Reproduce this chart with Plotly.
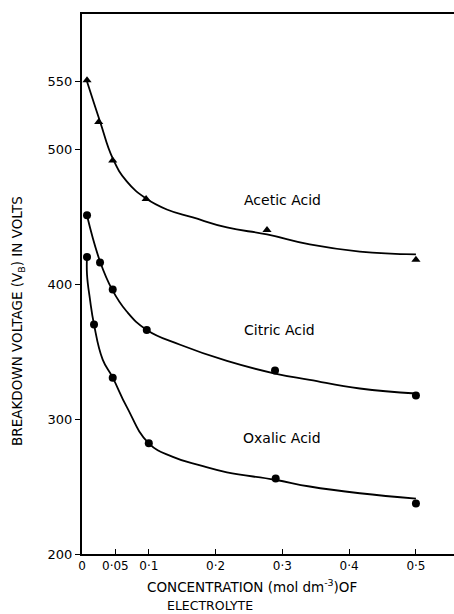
import plotly.graph_objects as go

# measured points
acetic_x = [0.0075, 0.025, 0.046, 0.096, 0.277, 0.5]
acetic_y = [551, 520, 491.5, 463, 440, 418]
citric_x = [0.0075, 0.027, 0.046, 0.097, 0.289, 0.5]
citric_y = [451, 416, 396, 366, 336, 317.5]
oxalic_x = [0.0075, 0.018, 0.046, 0.1, 0.29, 0.5]
oxalic_y = [420, 370, 330.5, 282, 256, 237.5]

# hand-drawn fitted curves
acetic_curve_x = [0.0075, 0.027, 0.046, 0.067, 0.096, 0.127, 0.166, 0.217, 0.277, 0.341, 0.416, 0.5]
acetic_curve_y = [550, 520.4, 493, 476, 463.3, 455.2, 449.3, 441.9, 436.7, 429.3, 424, 421.9]
citric_curve_x = [0.0075, 0.027, 0.045, 0.067, 0.097, 0.147, 0.217, 0.289, 0.341, 0.416, 0.5]
citric_curve_y = [450.7, 416.7, 396, 379.6, 366, 355, 343, 333.7, 329, 322.6, 318.9]
oxalic_curve_x = [0.0075, 0.0075, 0.012, 0.018, 0.031, 0.046, 0.067, 0.1, 0.136, 0.177, 0.217, 0.289, 0.341, 0.416, 0.5]
oxalic_curve_y = [420, 407, 388.5, 370, 344, 330.7, 309, 282, 272, 265.6, 260.5, 255, 250, 245, 241]

x_tickvals = [0, 0.05, 0.1, 0.2, 0.3, 0.4, 0.5]
x_ticktext = ["0", "0·05", "0·1", "0·2", "0·3", "0·4", "0·5"]
y_tickvals = [200, 300, 400, 500, 550]
y_ticktext = ["200", "300", "400", "500", "550"]

labels = ["Acetic Acid", "Citric Acid", "Oxalic Acid"]
label_x = [0.30, 0.296, 0.30]
label_y = [462, 365.6, 286]

FONT = "DejaVu Sans"
fig = go.Figure()
for cx, cy in [(acetic_curve_x, acetic_curve_y), (citric_curve_x, citric_curve_y), (oxalic_curve_x, oxalic_curve_y)]:
    fig.add_trace(go.Scatter(x=cx, y=cy, mode="lines", line=dict(color="black", width=1.8, shape="spline", smoothing=1.3), hoverinfo="skip"))

fig.add_trace(go.Scatter(x=acetic_x, y=acetic_y, mode="markers", marker=dict(symbol="triangle-up", size=8, color="black")))
fig.add_trace(go.Scatter(x=citric_x, y=citric_y, mode="markers", marker=dict(symbol="circle", size=8, color="black")))
fig.add_trace(go.Scatter(x=oxalic_x, y=oxalic_y, mode="markers", marker=dict(symbol="circle", size=8, color="black")))

for t, lx, ly in zip(labels, label_x, label_y):
    fig.add_annotation(x=lx, y=ly, text=t, showarrow=False, font=dict(family=FONT, size=14, color="black"))

fig.add_annotation(xref="paper", yref="paper", x=(145-82)/372, y=(554-586)/540, xanchor="left", yanchor="middle",
                   text="CONCENTRATION (mol dm<sup>-3</sup>)OF", showarrow=False, font=dict(family=FONT, size=13.5, color="black"))
fig.add_annotation(xref="paper", yref="paper", x=(165-82)/372, y=(554-605.5)/540, xanchor="left", yanchor="middle",
                   text="ELECTROLYTE", showarrow=False, font=dict(family=FONT, size=12.5, color="black"))
fig.add_annotation(xref="paper", yref="paper", x=(18-82)/372, y=(554-321)/540, xanchor="center", yanchor="middle",
                   text="BREAKDOWN VOLTAGE (V<sub>B</sub>) IN VOLTS", textangle=-90, showarrow=False,
                   font=dict(family=FONT, size=13.5, color="black"))

fig.update_layout(
    width=454, height=614,
    margin=dict(l=82, r=0, t=14, b=60),
    paper_bgcolor="white", plot_bgcolor="white",
    showlegend=False,
    font=dict(family=FONT, size=13, color="black"),
)
fig.update_xaxes(range=[0, 0.557], tickvals=x_tickvals, ticktext=x_ticktext, ticks="inside", ticklen=5,
                 tickcolor="black", showline=True, linecolor="black", linewidth=2, mirror=True,
                 showgrid=False, zeroline=False, tickfont=dict(family=FONT, size=12))
fig.update_yaxes(range=[200, 600], tickvals=y_tickvals, ticktext=y_ticktext, ticks="outside", ticklen=5,
                 tickcolor="black", showline=True, linecolor="black", linewidth=2,
                 showgrid=False, zeroline=False, tickfont=dict(family=FONT, size=13))

fig.write_html("out.html")
